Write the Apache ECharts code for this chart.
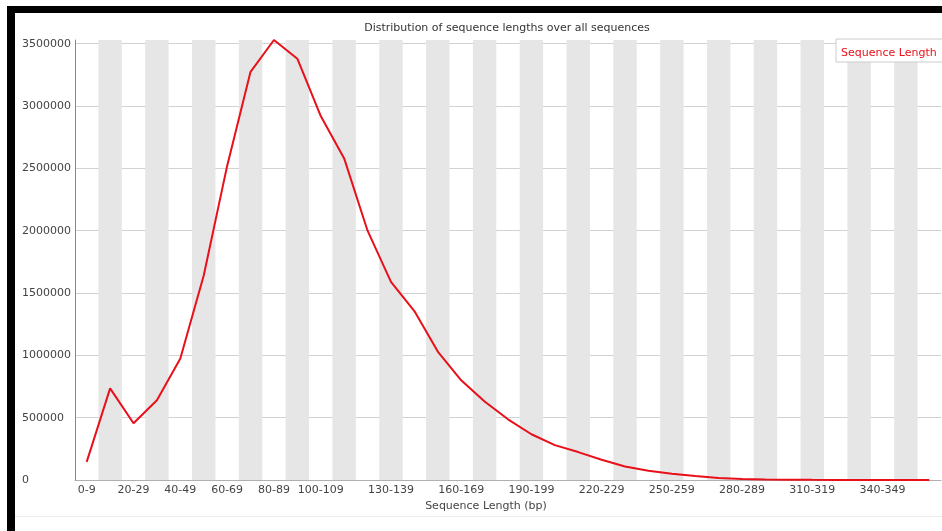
<!DOCTYPE html>
<html>
<head>
<meta charset="utf-8">
<script src="https://cdn.jsdelivr.net/npm/echarts@6/dist/echarts.min.js"></script>
<style>
html,body{margin:0;padding:0;background:#fff;}
#chart{width:942px;height:531px;}
</style>
</head>
<body>
<div id="chart"></div>
<script>
const categories = ["0-9","10-19","20-29","30-39","40-49","50-59","60-69","70-79","80-89","90-99",
  "100-109","110-119","120-129","130-139","140-149","150-159","160-169","170-179","180-189","190-199",
  "200-209","210-219","220-229","230-239","240-249","250-259","260-269","270-279","280-289","290-299",
  "300-309","310-319","320-329","330-339","340-349","350-359","360-369"];
const seqLengthCounts = [145000, 735000, 455000, 640000, 975000, 1640000, 2520000, 3275000, 3530000, 3380000,
  2920000, 2580000, 2000000, 1590000, 1355000, 1030000, 800000, 630000, 487000, 367000,
  280000, 224000, 163000, 108000, 75000, 50000, 32000, 17000, 8000, 4000,
  2500, 1500, 1000, 800, 600, 500, 400];
const shownXLabels = ["0-9","20-29","40-49","60-69","80-89","100-109","130-139","160-169","190-199",
  "220-229","250-259","280-289","310-319","340-349"];
const yTicks = [0, 500000, 1000000, 1500000, 2000000, 2500000, 3000000, 3500000];
const chartTitle = "Distribution of sequence lengths over all sequences";
const xAxisName = "Sequence Length (bp)";
const seriesName = "Sequence Length";

const FONT = "DejaVu Sans";
const chart = echarts.init(document.getElementById('chart'), null, {renderer: 'canvas'});
chart.setOption({
  backgroundColor: '#ffffff',
  animation: false,
  grid: {left: 75, top: 40, width: 866, height: 440, containLabel: false},
  legend: {
    data: [{name: seriesName, icon: 'none'}],
    left: 836, top: 39,
    itemWidth: 0, itemHeight: 0,
    padding: [9, 12, 3, 0],
    backgroundColor: '#ffffff',
    borderColor: '#cccccc', borderWidth: 1,
    textStyle: {color: '#e8101a', fontFamily: FONT, fontSize: 11},
    selectedMode: false
  },
  xAxis: {
    type: 'category',
    data: categories,
    boundaryGap: true,
    name: xAxisName,
    nameLocation: 'middle',
    nameGap: 21,
    nameTextStyle: {color: '#444', fontFamily: FONT, fontSize: 11, padding: [0, 44, 0, 0]},
    axisLine: {show: true, lineStyle: {color: '#b0b0b0', width: 1}},
    axisTick: {show: false},
    axisLabel: {
      color: '#444', fontFamily: FONT, fontSize: 11, margin: 5,
      interval: function (idx, value) { return shownXLabels.indexOf(value) >= 0; }
    },
    splitLine: {show: false},
    splitArea: {show: true, interval: 0, areaStyle: {color: ['rgba(255,255,255,0)', '#e6e6e6']}}
  },
  yAxis: {
    type: 'value',
    min: 0, max: 3530000, interval: 500000,
    axisLine: {show: true, lineStyle: {color: '#888', width: 1}},
    axisTick: {show: false},
    axisLabel: {
      color: '#444', fontFamily: FONT, fontSize: 11, align: 'left', margin: 53,
      showMaxLabel: false,
      formatter: function (v) { return yTicks.indexOf(v) >= 0 ? String(v) : ''; }
    },
    splitLine: {show: true, showMaxLine: false, lineStyle: {color: '#d2d2d2', width: 1}},
    splitArea: {show: false}
  },
  series: [{
    name: seriesName,
    type: 'line',
    data: seqLengthCounts,
    showSymbol: false,
    symbol: 'none',
    lineStyle: {color: '#e8101a', width: 2},
    itemStyle: {color: '#e8101a'},
    z: 5
  }],
  graphic: [
    {type: 'rect', shape: {x: 7, y: 6, width: 935, height: 7}, style: {fill: '#000'}, z: 100},
    {type: 'rect', shape: {x: 7, y: 6, width: 8, height: 525}, style: {fill: '#000'}, z: 100},
    {type: 'rect', shape: {x: 15, y: 516, width: 927, height: 1}, style: {fill: '#ececec'}, z: 100},
    {type: 'text', x: 507, y: 28, style: {text: chartTitle, fill: '#333', font: '11px "DejaVu Sans"', align: 'center', verticalAlign: 'middle'}, z: 100}
  ]
});
</script>
</body>
</html>
